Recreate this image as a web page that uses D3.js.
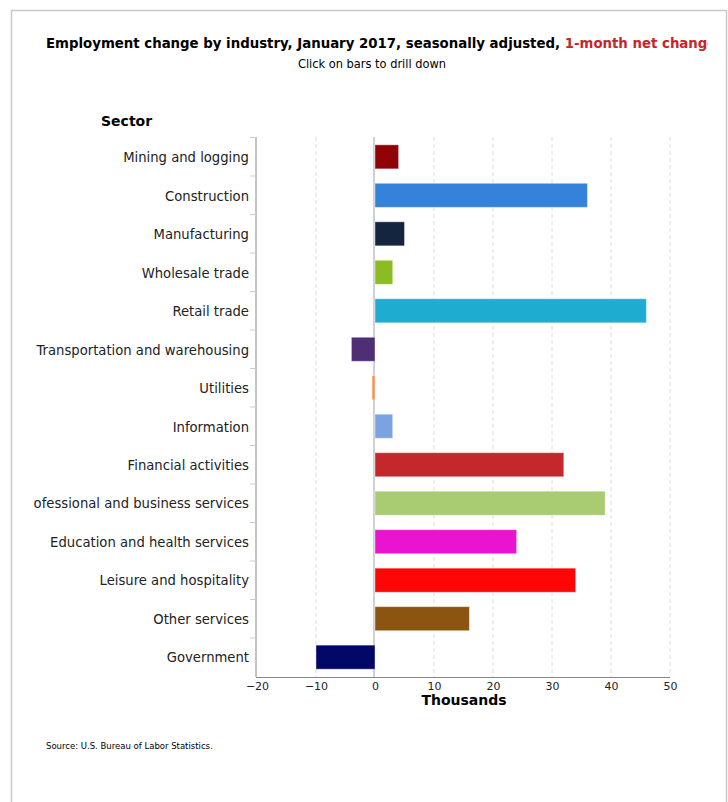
<!DOCTYPE html>
<html><head><meta charset="utf-8">
<script src="https://cdn.jsdelivr.net/npm/d3@7"></script>
<style>
html,body{margin:0;padding:0;background:#fff;}
svg{display:block;}
</style></head>
<body>
<svg id="chart" width="728" height="802"></svg>
<script>
const sectors = ["Mining and logging","Construction","Manufacturing","Wholesale trade","Retail trade","Transportation and warehousing","Utilities","Information","Financial activities","Professional and business services","Education and health services","Leisure and hospitality","Other services","Government"];
const values = [4, 36, 5, 3, 46, -4, -0.5, 3, 32, 39, 24, 34, 16, -10];
const colors = ["#8f0306","#3482d9","#14263f","#8bbd23","#1eadd1","#4e2e75","#f39350","#7ba3e4","#c4282a","#a9cb71","#e913d0","#ff0505","#8c5411","#030767"];
const xTicks = [-20,-10,0,10,20,30,40,50];

const svg = d3.select("#chart");
// frame
svg.append("rect").attr("x",11.5).attr("y",10.5).attr("width",715).attr("height",800)
  .attr("fill","#fff").attr("stroke","#c8c8c8").attr("stroke-width",1.5);

const defs = svg.append("defs");
defs.append("clipPath").attr("id","clip").append("rect").attr("x",34).attr("y",12).attr("width",674).attr("height",780);

const g = svg.append("g").attr("clip-path","url(#clip)");

// title
const title = g.append("text").attr("x",46).attr("y",47.5)
  .attr("font-family","DejaVu Sans Condensed, DejaVu Sans").attr("font-weight","bold").attr("font-size",14.8).attr("fill","#000");
title.append("tspan").text("Employment change by industry, January 2017, seasonally adjusted, ");
title.append("tspan").attr("fill","#c4262b").text("1-month net change");

g.append("text").attr("x",372).attr("y",67.5).attr("text-anchor","middle")
  .attr("font-family","DejaVu Sans Condensed, DejaVu Sans").attr("font-size",12.7).attr("fill","#000")
  .text("Click on bars to drill down");

const x = d3.scaleLinear().domain([-20,50]).range([257,670]);
const y = d3.scaleBand().domain(sectors).range([137.5,676.5]).paddingInner(0.375).paddingOuter(0.19);

// gridlines
g.append("g").selectAll("line").data(xTicks.filter(d=>d!==0 && d!==-20)).join("line")
  .attr("x1",d=>x(d)).attr("x2",d=>x(d)).attr("y1",137).attr("y2",677)
  .attr("stroke","#dcdcdc").attr("stroke-dasharray","4,3").attr("stroke-width",1);
// zero line
g.append("line").attr("x1",x(0)-1).attr("x2",x(0)-1).attr("y1",137).attr("y2",677)
  .attr("stroke","#d0d0d0").attr("stroke-width",2);

// bars
g.append("g").selectAll("rect").data(sectors).join("rect")
  .attr("x",(d,i)=>Math.min(x(0),x(values[i])))
  .attr("width",(d,i)=>Math.abs(x(values[i])-x(0)))
  .attr("y",d=>y(d)).attr("height",y.bandwidth())
  .attr("fill",(d,i)=>colors[i])
  .attr("stroke","rgba(255,255,255,0.4)").attr("stroke-width",1);

// y axis
const yAxis = d3.axisLeft(y).tickSize(0).tickPadding(7);
const ya = g.append("g").attr("transform","translate(256,0)").call(yAxis);
ya.select(".domain").remove();
ya.selectAll("text").attr("font-family","DejaVu Sans").attr("font-size",13.2).attr("fill","#222").attr("dy","0.4em");
g.append("line").attr("x1",256).attr("x2",256).attr("y1",137).attr("y2",677).attr("stroke","#888").attr("stroke-width",1);
// band boundary ticks
const bounds = d3.range(sectors.length).map(i=>137.5 + i*(676.5-137.5)/sectors.length);
g.append("g").selectAll("line").data(bounds).join("line")
  .attr("x1",250).attr("x2",256).attr("y1",d=>d).attr("y2",d=>d).attr("stroke","#ccc");

// x axis
const xAxis = d3.axisBottom(x).tickValues(xTicks).tickSize(0).tickPadding(5)
  .tickFormat(d=>d<0 ? "\u2212"+Math.abs(d) : d);
const xa = g.append("g").attr("transform","translate(0,677)").call(xAxis);
xa.select(".domain").attr("stroke","#888").attr("d","M256,0.5H670");
xa.selectAll("text").attr("font-family","DejaVu Sans").attr("font-size",11).attr("fill","#222");

g.append("text").attr("x",464).attr("y",705).attr("text-anchor","middle")
  .attr("font-family","DejaVu Sans").attr("font-weight","bold").attr("font-size",14).attr("fill","#000").text("Thousands");

g.append("text").attr("x",101).attr("y",126)
  .attr("font-family","DejaVu Sans").attr("font-weight","bold").attr("font-size",14).attr("fill","#000").text("Sector");

g.append("text").attr("x",46).attr("y",749)
  .attr("font-family","DejaVu Sans").attr("font-size",8.5).attr("fill","#000").text("Source: U.S. Bureau of Labor Statistics.");
</script>
</body></html>
